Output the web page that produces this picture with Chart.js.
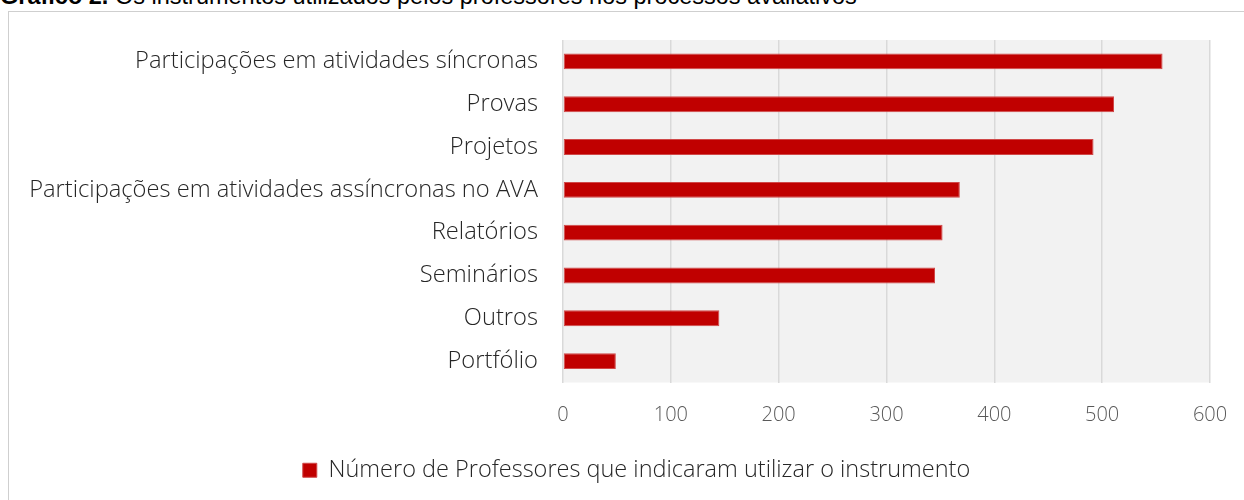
<!DOCTYPE html>
<html>
<head>
<meta charset="utf-8">
<script src="https://cdn.jsdelivr.net/npm/chart.js@4/dist/chart.umd.min.js"></script>
<style>
  html, body { margin: 0; padding: 0; background: #fff; overflow: hidden; }
  #wrap { position: relative; width: 1244px; height: 500px; overflow: hidden; }
  #title { position: absolute; left: 0px; top: -16px; font: 23.5px "Liberation Sans", Arial, sans-serif; line-height: 24px; color: #000; white-space: nowrap; }
  #frame { position: absolute; left: 8px; top: 11px; width: 1260px; height: 520px; border: 1px solid #cfcfcf; box-sizing: border-box; }
  #c { position: absolute; left: 0; top: 0; }
</style>
</head>
<body>
<div id="wrap">
  <div id="title"><b>Gráfico 2.</b> Os instrumentos utilizados pelos professores nos processos avaliativos</div>
  <div id="frame"></div>
  <canvas id="c" width="1244" height="500"></canvas>
</div>
<script>
const categories = [
  "Participações em atividades síncronas",
  "Provas",
  "Projetos",
  "Participações em atividades assíncronas no AVA",
  "Relatórios",
  "Seminários",
  "Outros",
  "Portfólio"
];
const seriesLabel = "Número de Professores que indicaram utilizar o instrumento";
const seriesValues = [556, 511, 492, 368, 352, 345, 145, 49];
const xTicks = [0, 100, 200, 300, 400, 500, 600];

const plotBg = {
  id: 'plotBg',
  beforeDraw(chart) {
    const { ctx, chartArea: a } = chart;
    ctx.save();
    ctx.fillStyle = '#f2f2f2';
    ctx.fillRect(a.left, a.top, a.right - a.left, a.bottom - a.top);
    ctx.restore();
  }
};

// centre the legend over the whole frame rather than the padded canvas
const legendShift = {
  id: 'legendShift',
  afterLayout(chart) {
    if (chart.legend) {
      chart.legend.left = 63;
      chart.legend.right = 1210;
    }
  }
};

new Chart(document.getElementById('c'), {
  type: 'bar',
  data: {
    labels: categories,
    datasets: [{
      label: seriesLabel,
      data: seriesValues,
      backgroundColor: '#C00000',
      borderColor: '#d04848',
      borderWidth: 1,
      borderSkipped: false,
      categoryPercentage: 1,
      barPercentage: 0.37
    }]
  },
  options: {
    indexAxis: 'y',
    responsive: false,
    animation: false,
    devicePixelRatio: 1,
    layout: { padding: { left: 0, right: 34, top: 40, bottom: 8 } },
    scales: {
      x: {
        min: xTicks[0],
        max: xTicks[xTicks.length - 1],
        afterBuildTicks(scale) { scale.ticks = xTicks.map(v => ({ value: v })); },
        grid: { color: '#d9d9d9', lineWidth: 1.5, drawTicks: false },
        border: { display: false },
        ticks: {
          color: '#595959',
          padding: 21,
          font: { family: '"Open Sans"', size: 20, weight: 300 }
        },
        afterFit(scale) { scale.height = 66; scale.paddingRight = 0; scale.paddingLeft = 0; }
      },
      y: {
        grid: { display: false, drawTicks: false },
        border: { display: false },
        ticks: {
          color: '#262626',
          padding: 25,
          font: { family: '"Open Sans"', size: 23.7, weight: 300 }
        },
        afterFit(scale) { scale.width = 563; }
      }
    },
    plugins: {
      legend: {
        position: 'bottom',
        labels: {
          color: '#262626',
          boxWidth: 14,
          boxHeight: 14,
          padding: 10,
          font: { family: '"Open Sans"', size: 23.5, weight: 300 }
        }
      },
      tooltip: { enabled: false }
    }
  },
  plugins: [plotBg, legendShift]
});
</script>
</body>
</html>
